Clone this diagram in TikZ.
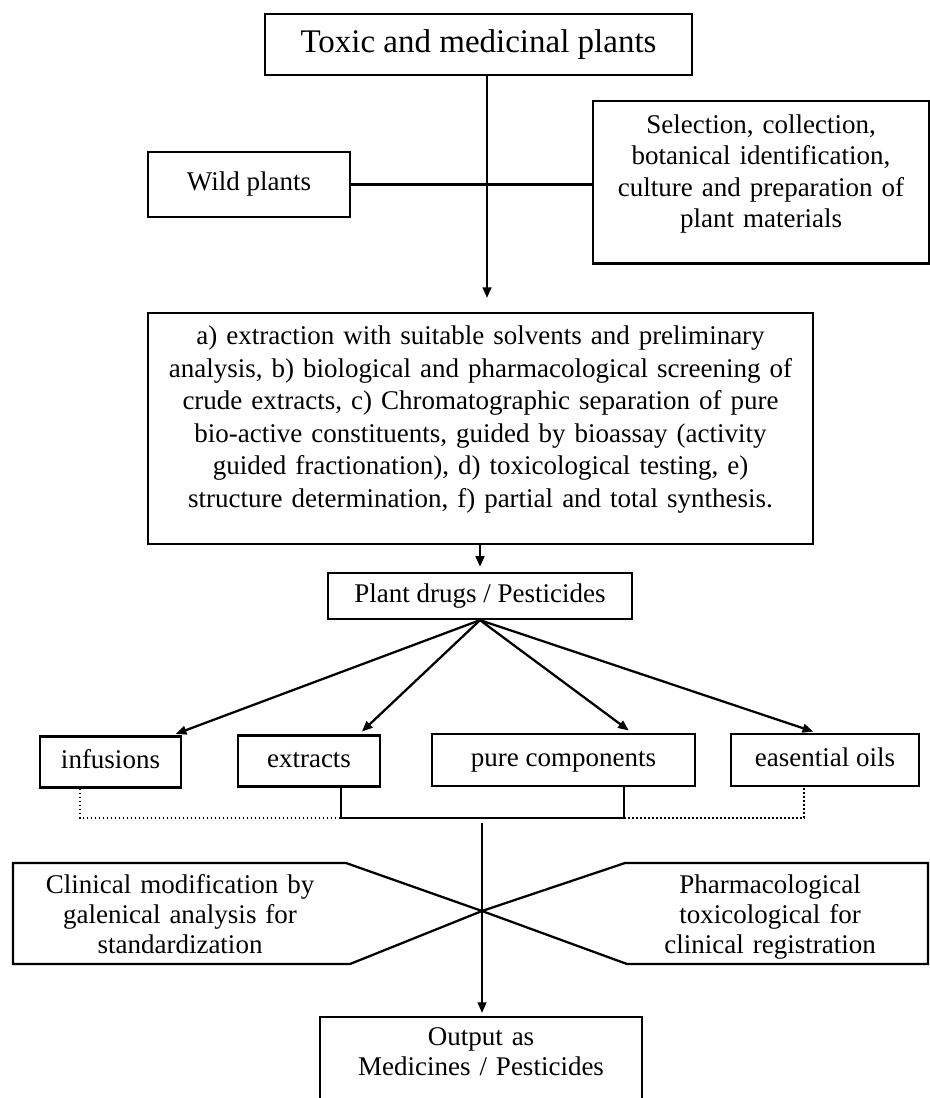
\documentclass[tikz,border=0pt]{standalone}
\usepackage{fontspec}
\setmainfont{Liberation Serif}
\usetikzlibrary{arrows.meta,calc}
\newcommand{\titlefnt}{\fontsize{24.75pt}{29pt}\selectfont}
\newcommand{\bodyfnt}{\fontsize{20.25pt}{23.6pt}\selectfont}
\newcommand{\bigfnt}{\fontsize{20.25pt}{24.4pt}\selectfont}
\newcommand{\xfnt}{\fontsize{20.25pt}{22.5pt}\selectfont}
\tikzset{
  box/.style={draw=black, line width=1.7pt, align=center, inner xsep=0pt, font=\bodyfnt},
  onebox/.style={box, text height=14pt, text depth=5pt},
  lbl/.style={align=center, inner sep=0pt, font=\xfnt},
  link/.style={line width=1.7pt},
  arr/.style={line width=1.7pt, -{Triangle[length=8pt,width=6.5pt]}},
  dots/.style={line width=1.3pt, dash pattern=on 1.2pt off 1.8pt}
}
\begin{document}
\begin{tikzpicture}[x=0.75pt, y=-0.75pt]
  \path[use as bounding box] (0,0) rectangle (930,1098);
  \clip (0,0) rectangle (930,1098);
  \node[box, font=\titlefnt, minimum width=320.25pt, minimum height=45.75pt] (toxic) at (478.5,44.5) {Toxic and medicinal plants};
  \node[onebox, minimum width=151.5pt, minimum height=48.75pt] (wild) at (249,184.5) {Wild plants};
  \node[box, anchor=north, text width=252pt, inner ysep=10.2pt, text depth=87.3pt] (select) at (761,100) {Selection, collection,\\botanical identification,\\culture and preparation of\\plant materials};
  \node[box, font=\bigfnt, anchor=north, text width=498.75pt, inner ysep=9.45pt, text depth=140.25pt] (extract) at (480.5,312) {a) extraction with suitable solvents and preliminary\\analysis, b) biological and pharmacological screening of\\crude extracts, c) Chromatographic separation of pure\\bio-active constituents, guided by bioassay (activity\\guided fractionation), d) toxicological testing, e)\\structure determination, f) partial and total synthesis.};
  \node[onebox, minimum width=228pt, minimum height=34.5pt] (drugs) at (480,596) {Plant drugs / Pesticides};
  \node[onebox, minimum width=105.75pt, minimum height=38.25pt] (infus) at (110.5,762) {infusions};
  \node[onebox, minimum width=106.5pt, minimum height=38.25pt] (extr) at (309,761) {extracts};
  \node[onebox, minimum width=197.25pt, minimum height=39pt] (pure) at (563.5,760) {pure components};
  \node[onebox, minimum width=141pt, minimum height=39pt] (oils) at (825,760) {easential oils};
  \node[lbl, anchor=base, text width=255pt] (clinic) at (180,893) {Clinical modification by\\galenical analysis for\\standardization};
  \node[lbl, anchor=base, text width=200pt] (pharma) at (770,893) {Pharmacological\\toxicological for\\clinical registration};
  \node[box, font=\xfnt, anchor=north, text width=241.5pt, inner ysep=8pt, text depth=60pt] (output) at (481,1016) {Output as\\Medicines / Pesticides};
  \coordinate (jn) at (487,183);
  \coordinate (di) at (80,818);
  \coordinate (bl) at (341,818);
  \coordinate (br) at (624,818);
  \coordinate (do) at (804,818);
  \coordinate (brk) at (482,818);
  \coordinate (cx) at (482,911);
  \draw[link] (wild.east) -- (wild.east -| select.west);
  \draw[arr, shorten >=10.5pt] (toxic.south -| jn) -- (extract.north -| jn);
  \draw[arr, shorten >=3.75pt] (extract.south -| drugs) -- (drugs.north);
  \draw[arr, shorten >=3pt] (drugs.south) -- ($(infus.north)+(61.5,0)$);
  \draw[arr, shorten >=3pt] (drugs.south) -- ($(extr.north)+(50,0)$);
  \draw[arr, shorten >=3pt] (drugs.south) -- ($(pure.north)+(68.5,0)$);
  \draw[arr, shorten >=3pt] (drugs.south) -- ($(oils.north)+(-8,0)$);
  \draw[dots] (infus.south -| di) -- (di) -- (bl);
  \draw[link] (extr.south -| bl) -- (bl) -- (br) -- (pure.south -| br);
  \draw[dots] (br) -- (do) -- (oils.south -| do);
  \draw[link] (cx) -- (346,863) -- (13,863) -- (13,964) -- (350,964) -- cycle;
  \draw[link] (cx) -- (625,863) -- (928,863) -- (928,964) -- (627,964) -- cycle;
  \draw[arr, shorten <=4pt, shorten >=2.25pt] (brk) -- (output.north -| brk);
\end{tikzpicture}
\end{document}
